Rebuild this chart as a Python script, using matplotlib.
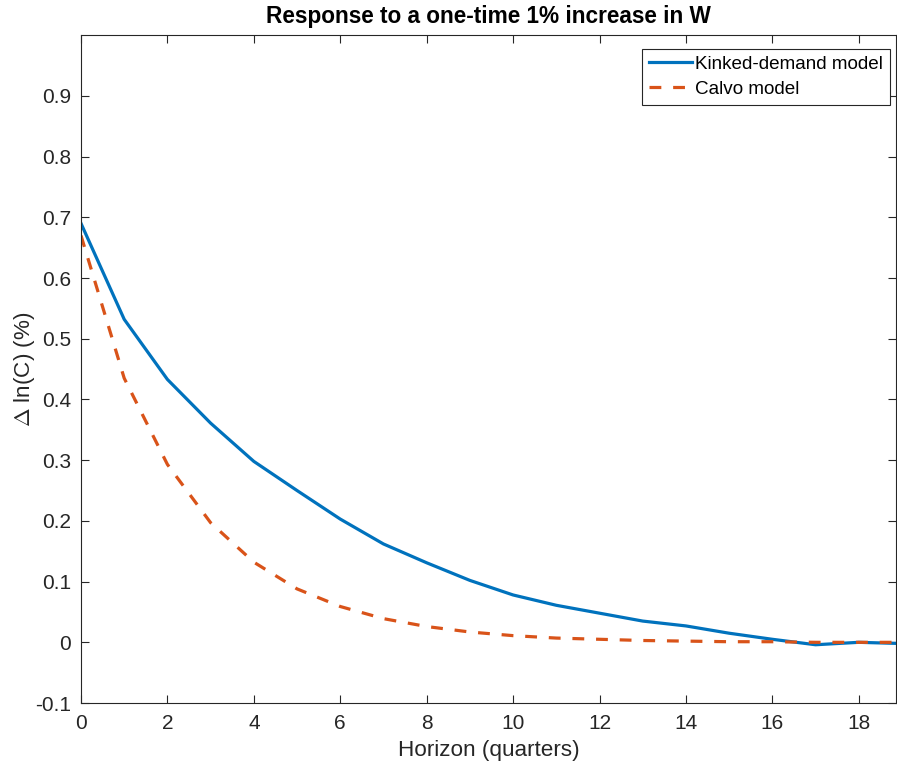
import matplotlib
matplotlib.use("Agg")
import matplotlib.pyplot as plt
import numpy as np

horizon = list(range(20))
kinked = [0.690, 0.532, 0.433, 0.361, 0.298, 0.250, 0.203, 0.162, 0.131, 0.102,
          0.078, 0.061, 0.048, 0.035, 0.027, 0.015, 0.005, -0.004, 0.000, -0.002]
calvo = [0.670, 0.435, 0.293, 0.197, 0.132, 0.088, 0.059, 0.039, 0.026, 0.017,
         0.011, 0.007, 0.005, 0.003, 0.002, 0.001, 0.001, 0.000, 0.000, 0.000]

xticks = list(range(0, 19, 2))
yticks = [-0.1, 0, 0.1, 0.2, 0.3, 0.4, 0.5, 0.6, 0.7, 0.8, 0.9]
ytick_labels = ["-0.1", "0", "0.1", "0.2", "0.3", "0.4", "0.5", "0.6", "0.7", "0.8", "0.9"]

plt.rcParams['font.family'] = ['Liberation Sans', 'DejaVu Sans']
plt.rcParams['mathtext.fontset'] = 'cm'
fig = plt.figure(figsize=(8.97, 7.65), dpi=100)
ax = fig.add_axes([0.0903, 0.081, 0.909, 0.873])

ax.plot(horizon, kinked, color='#0072BD', lw=2.3, label='Kinked-demand model')
ax.plot(horizon, calvo, color='#D95319', lw=2.3, ls=(0, (3.7, 3.7)), label='Calvo model')

ax.set_xlim(0, 18.87)
ax.set_ylim(-0.1, 1.0)
ax.set_xticks(xticks)
ax.set_yticks(yticks)
ax.set_yticklabels(ytick_labels)
gray = '#262626'
for s in ax.spines.values():
    s.set_color(gray)
    s.set_linewidth(0.8)
ax.tick_params(direction='in', top=True, right=True, length=6, width=0.8,
               colors=gray, labelsize=15, pad=7)
ax.tick_params(axis='x', pad=8)
ax.set_xlabel('Horizon (quarters)', fontsize=16.2, color=gray, labelpad=5)
ax.set_ylabel('$\\Delta$ ln(C) (%)', fontsize=16.2, color=gray, labelpad=-1)
ax.set_title('Response to a one-time 1% increase in W', fontsize=16.3,
             fontweight='bold', color='black', pad=9)
leg = ax.legend(loc='upper right', bbox_to_anchor=(890 / 897, 1 - 49 / 765),
                bbox_transform=fig.transFigure, borderaxespad=0,
                fontsize=13.6, frameon=True, fancybox=False,
                edgecolor=gray, framealpha=1, handlelength=2.3, handletextpad=0.15,
                borderpad=0.36, labelspacing=0.4)
leg.get_frame().set_linewidth(0.8)

fig.savefig('out.png', dpi=100)
